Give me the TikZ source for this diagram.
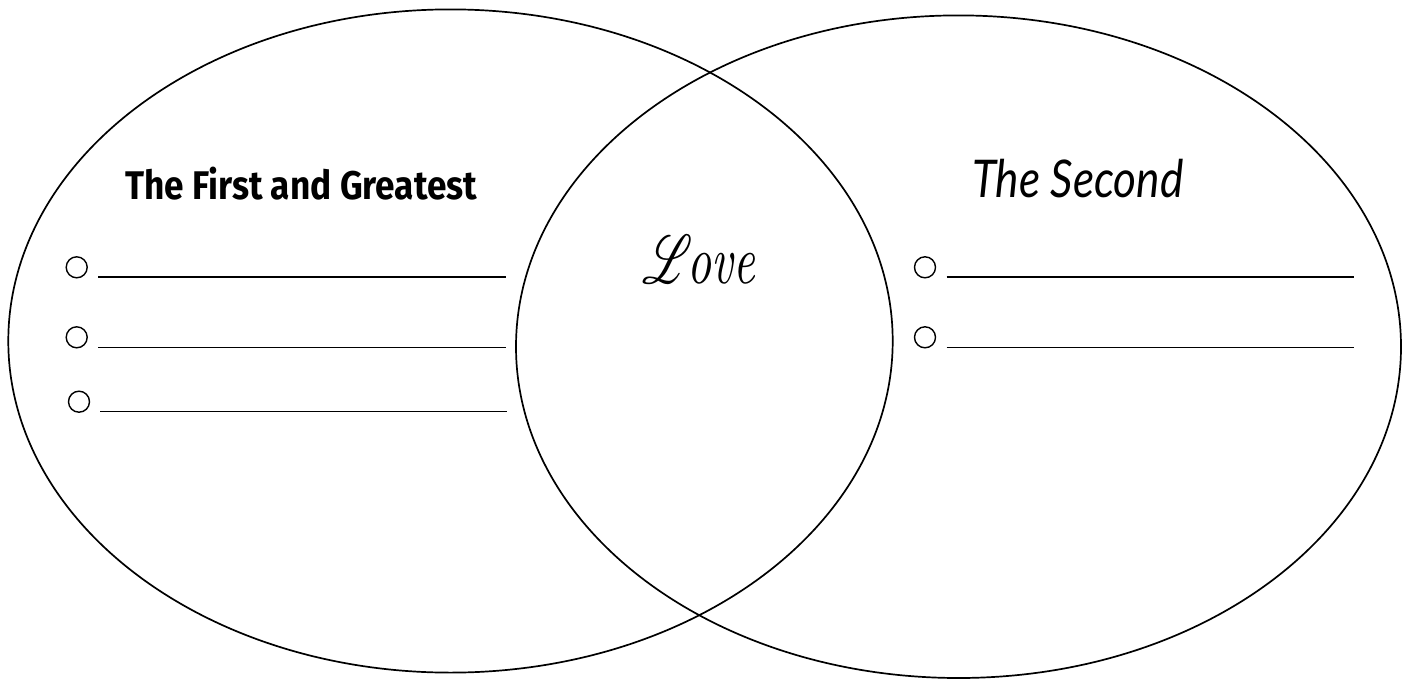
\documentclass[tikz,border=0pt]{standalone}
\usepackage{fontspec}
\usepackage{mathrsfs}
\usetikzlibrary{shapes.geometric}
\newfontfamily\firstfont{Fira Sans}[BoldFont=* Bold]
\newfontfamily\secondfont{Lato}
\begin{document}
\begin{tikzpicture}[x=1pt,y=-1pt,
  venn/.style={ellipse,draw,line width=1.7pt,inner sep=0pt},
  bullet/.style={circle,draw,line width=1.4pt,minimum size=21pt,inner sep=0pt},
  blank/.style={line width=1.6pt},
  lbl/.style={anchor=base west,inner sep=0pt}]
\useasboundingbox (0,0) rectangle (1410,680);
\fill[white] (0,0) rectangle (1410,680);
\node[venn,minimum width=884.4pt,minimum height=663.2pt] (left) at (450.5,341) {};
\node[venn,minimum width=885pt,minimum height=662.6pt] (right) at (958.5,346.7) {};
% labels
\node[lbl] (first) at (125,199) {\resizebox{352pt}{\height}{\fontsize{40}{48}\selectfont\firstfont\bfseries The First and Greatest}};
\node[lbl] (second) at (972,197) {\resizebox{211pt}{\height}{\fontsize{52}{60}\selectfont\secondfont\itshape The Second}};
\node[lbl] (love) at (642,283) {\resizebox{113pt}{48pt}{$\mathscr{L}$\kern-1pt\itshape ove}};
% left bullets
\node[bullet] (b1) at (76.7,267.3) {};
\node[bullet] (b2) at (76.7,337.3) {};
\node[bullet] (b3) at (79,401.7) {};
\coordinate (l1s) at (98.3,276.7); \coordinate (l1e) at (505.7,276.7);
\coordinate (l2s) at (98.3,347.3); \coordinate (l2e) at (505.7,347.3);
\coordinate (l3s) at (100,411.3);  \coordinate (l3e) at (507.3,411.3);
\draw[blank] (l1s) -- (l1e);
\draw[blank] (l2s) -- (l2e);
\draw[blank] (l3s) -- (l3e);
% right bullets
\node[bullet] (r1) at (925,267.3) {};
\node[bullet] (r2) at (925,337.3) {};
\coordinate (m1s) at (946.7,276.7); \coordinate (m1e) at (1354,276.7);
\coordinate (m2s) at (946.7,347.3); \coordinate (m2e) at (1354,347.3);
\draw[blank] (m1s) -- (m1e);
\draw[blank] (m2s) -- (m2e);
\end{tikzpicture}
\end{document}
